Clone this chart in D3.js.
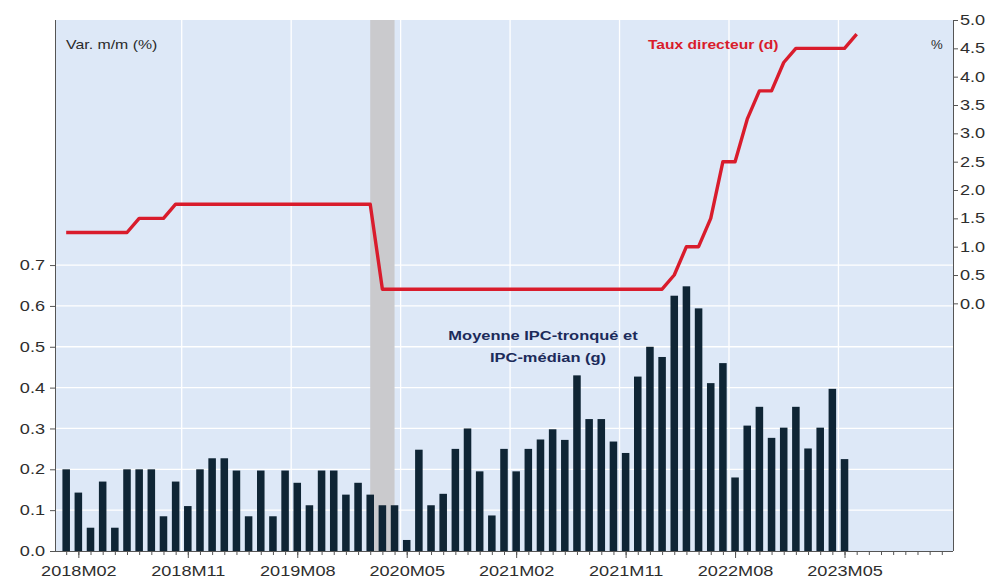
<!DOCTYPE html>
<html>
<head>
<meta charset="utf-8">
<script src="https://cdn.jsdelivr.net/npm/d3@7"></script>
<style>
  html, body { margin: 0; padding: 0; background: #ffffff; }
  svg { display: block; }
  text { font-family: "Liberation Sans", Arial, sans-serif; }
</style>
</head>
<body>
<svg id="chart" width="992" height="582"></svg>
<script>
// ---------------- DATA ----------------
const months = [
  "2018M01","2018M02","2018M03","2018M04","2018M05","2018M06","2018M07","2018M08","2018M09","2018M10","2018M11","2018M12",
  "2019M01","2019M02","2019M03","2019M04","2019M05","2019M06","2019M07","2019M08","2019M09","2019M10","2019M11","2019M12",
  "2020M01","2020M02","2020M03","2020M04","2020M05","2020M06","2020M07","2020M08","2020M09","2020M10","2020M11","2020M12",
  "2021M01","2021M02","2021M03","2021M04","2021M05","2021M06","2021M07","2021M08","2021M09","2021M10","2021M11","2021M12",
  "2022M01","2022M02","2022M03","2022M04","2022M05","2022M06","2022M07","2022M08","2022M09","2022M10","2022M11","2022M12",
  "2023M01","2023M02","2023M03","2023M04","2023M05","2023M06","2023M07","2023M08","2023M09","2023M10","2023M11","2023M12",
  "2024M01"
];

// Moyenne IPC-tronqué et IPC-médian, var. m/m (%) — 2018M01 .. 2023M05
const coreInflation = [
  0.20, 0.143, 0.057, 0.17, 0.057, 0.20, 0.20, 0.20, 0.085, 0.17, 0.11, 0.20,
  0.227, 0.227, 0.197, 0.085, 0.197, 0.085, 0.197, 0.167, 0.112, 0.197, 0.197, 0.138,
  0.167, 0.138, 0.112, 0.112, 0.027, 0.248, 0.112, 0.14, 0.25, 0.30, 0.195, 0.087,
  0.25, 0.195, 0.25, 0.273, 0.298, 0.272, 0.43, 0.323, 0.323, 0.268, 0.24, 0.427,
  0.50, 0.475, 0.625, 0.648, 0.594, 0.411, 0.46, 0.18, 0.307, 0.353, 0.277, 0.302,
  0.353, 0.251, 0.302, 0.397, 0.225
];

// Taux directeur (%) — 2018M01 .. 2023M06
const policyRate = [
  1.25, 1.25, 1.25, 1.25, 1.25, 1.25, 1.50, 1.50, 1.50, 1.75, 1.75, 1.75,
  1.75, 1.75, 1.75, 1.75, 1.75, 1.75, 1.75, 1.75, 1.75, 1.75, 1.75, 1.75,
  1.75, 1.75, 0.25, 0.25, 0.25, 0.25, 0.25, 0.25, 0.25, 0.25, 0.25, 0.25,
  0.25, 0.25, 0.25, 0.25, 0.25, 0.25, 0.25, 0.25, 0.25, 0.25, 0.25, 0.25,
  0.25, 0.25, 0.50, 1.00, 1.00, 1.50, 2.50, 2.50, 3.25, 3.75, 3.75, 4.25,
  4.50, 4.50, 4.50, 4.50, 4.50, 4.75
];

const xTickLabels = ["2018M02","2018M11","2019M08","2020M05","2021M02","2021M11","2022M08","2023M05"];
const xGridMonths = ["2018M11","2019M08","2020M05","2021M02","2021M11","2022M08","2023M05"];
const leftTicks = [0.0, 0.1, 0.2, 0.3, 0.4, 0.5, 0.6, 0.7];
const rightTicks = [0.0, 0.5, 1.0, 1.5, 2.0, 2.5, 3.0, 3.5, 4.0, 4.5, 5.0];
const recession = ["2020M02", "2020M04"];

// ---------------- LAYOUT ----------------
const svg = d3.select("#chart");
const L = 55, R = 953, T = 20, B = 551;
const SX = 1.25; // horizontal stretch of glyphs seen in the reference

const x = d3.scalePoint().domain(months).range([L, R]).padding(0.92);
const step = x.step();
const yL = d3.scaleLinear().domain([0, 1.3]).range([B, T]);
const yR = d3.scaleLinear().domain([-4.37, 5]).range([B, T]);

// background
svg.append("rect").attr("x", L).attr("y", T).attr("width", R - L).attr("height", B - T)
  .attr("fill", "#dde8f7");

// horizontal gridlines
svg.append("g").selectAll("line").data(leftTicks.filter(d => d > 0)).join("line")
  .attr("x1", L).attr("x2", R)
  .attr("y1", d => yL(d)).attr("y2", d => yL(d))
  .attr("stroke", "#ffffff").attr("stroke-width", 1.3);

// vertical gridlines (at start of labelled months)
svg.append("g").selectAll("line").data(xGridMonths).join("line")
  .attr("x1", d => x(d) - step / 2).attr("x2", d => x(d) - step / 2)
  .attr("y1", T).attr("y2", B)
  .attr("stroke", "#ffffff").attr("stroke-width", 1.3);

// recession shading
svg.append("rect")
  .attr("x", x(recession[0])).attr("y", T)
  .attr("width", x(recession[1]) - x(recession[0]))
  .attr("height", B - T)
  .attr("fill", "#cacacd");

// bars
const barW = step * 0.62;
svg.append("g").selectAll("rect").data(coreInflation).join("rect")
  .attr("x", (d, i) => x(months[i]) - barW / 2)
  .attr("y", d => yL(d))
  .attr("width", barW)
  .attr("height", d => yL(0) - yL(d))
  .attr("fill", "#0f2535");

// policy-rate line
const line = d3.line().x((d, i) => x(months[i])).y(d => yR(d));
svg.append("path").datum(policyRate)
  .attr("d", line)
  .attr("fill", "none")
  .attr("stroke", "#d91c2c")
  .attr("stroke-width", 3.4)
  .attr("stroke-linejoin", "round");

// ---------------- AXES ----------------
const axisColor = "#555555";
const labelColor = "#2e2e2e";

// bottom: minor ticks every month
const gMinor = svg.append("g").attr("transform", `translate(0,${B})`)
  .call(d3.axisBottom(x).tickValues(months).tickSize(4).tickFormat(""));
gMinor.select(".domain").remove();
gMinor.selectAll("line").attr("stroke", axisColor);

// bottom: major ticks with labels
const gBottom = svg.append("g").attr("transform", `translate(0,${B})`)
  .call(d3.axisBottom(x).tickValues(xTickLabels).tickSize(7).tickSizeOuter(0).tickPadding(8));
gBottom.select(".domain").attr("stroke", axisColor).attr("d", `M${L},0.5H${R}`);
gBottom.selectAll("line").attr("stroke", axisColor);
gBottom.selectAll("text")
  .attr("fill", labelColor).attr("font-size", 14.5)
  .attr("font-family", "'Liberation Sans', Arial, sans-serif")
  .attr("transform", `scale(${SX},1)`);

// left axis
const gLeft = svg.append("g").attr("transform", `translate(${L},0)`)
  .call(d3.axisLeft(yL).tickValues(leftTicks).tickFormat(d3.format(".1f")).tickSize(5).tickSizeOuter(0));
gLeft.select(".domain").attr("stroke", axisColor).attr("d", `M0.5,${T}V${B}`);
gLeft.selectAll("line").attr("stroke", axisColor);
gLeft.selectAll("text")
  .attr("fill", labelColor).attr("font-size", 14.5)
  .attr("font-family", "'Liberation Sans', Arial, sans-serif")
  .attr("x", -8).attr("transform", `scale(${SX},1)`);

// right axis
const gRight = svg.append("g").attr("transform", `translate(${R},0)`)
  .call(d3.axisRight(yR).tickValues(rightTicks).tickFormat(d3.format(".1f")).tickSize(5).tickSizeOuter(0));
gRight.select(".domain").attr("stroke", axisColor).attr("d", `M0.5,${T}V${B}`);
gRight.selectAll("line").attr("stroke", axisColor);
gRight.selectAll("text")
  .attr("fill", labelColor).attr("font-size", 14.5)
  .attr("font-family", "'Liberation Sans', Arial, sans-serif")
  .attr("x", 5.6).attr("transform", `scale(${SX},1)`);

// ---------------- TEXT ----------------
function label(txt, px, py, opts) {
  return svg.append("text")
    .attr("transform", `translate(${px},${py}) scale(${opts.sx || 1.2},1)`)
    .attr("x", 0).attr("y", 0)
    .attr("font-size", opts.size)
    .attr("font-weight", opts.weight || "normal")
    .attr("fill", opts.color)
    .attr("text-anchor", opts.anchor || "start")
    .text(txt);
}

label("Var. m/m (%)", 66, 49, { size: 13, color: "#2a2a2a", sx: 1.22 });
label("%", 931, 49, { size: 12, color: "#2a2a2a", sx: 1.1 });
label("Taux directeur (d)", 648, 49, { size: 13, weight: "bold", color: "#d91c2c", sx: 1.2 });
label("Moyenne IPC-tronqué et", 543, 340, { size: 13.5, weight: "bold", color: "#1c2b5a", anchor: "middle", sx: 1.22 });
label("IPC-médian (g)", 548, 362, { size: 13.5, weight: "bold", color: "#1c2b5a", anchor: "middle", sx: 1.22 });
</script>
</body>
</html>
